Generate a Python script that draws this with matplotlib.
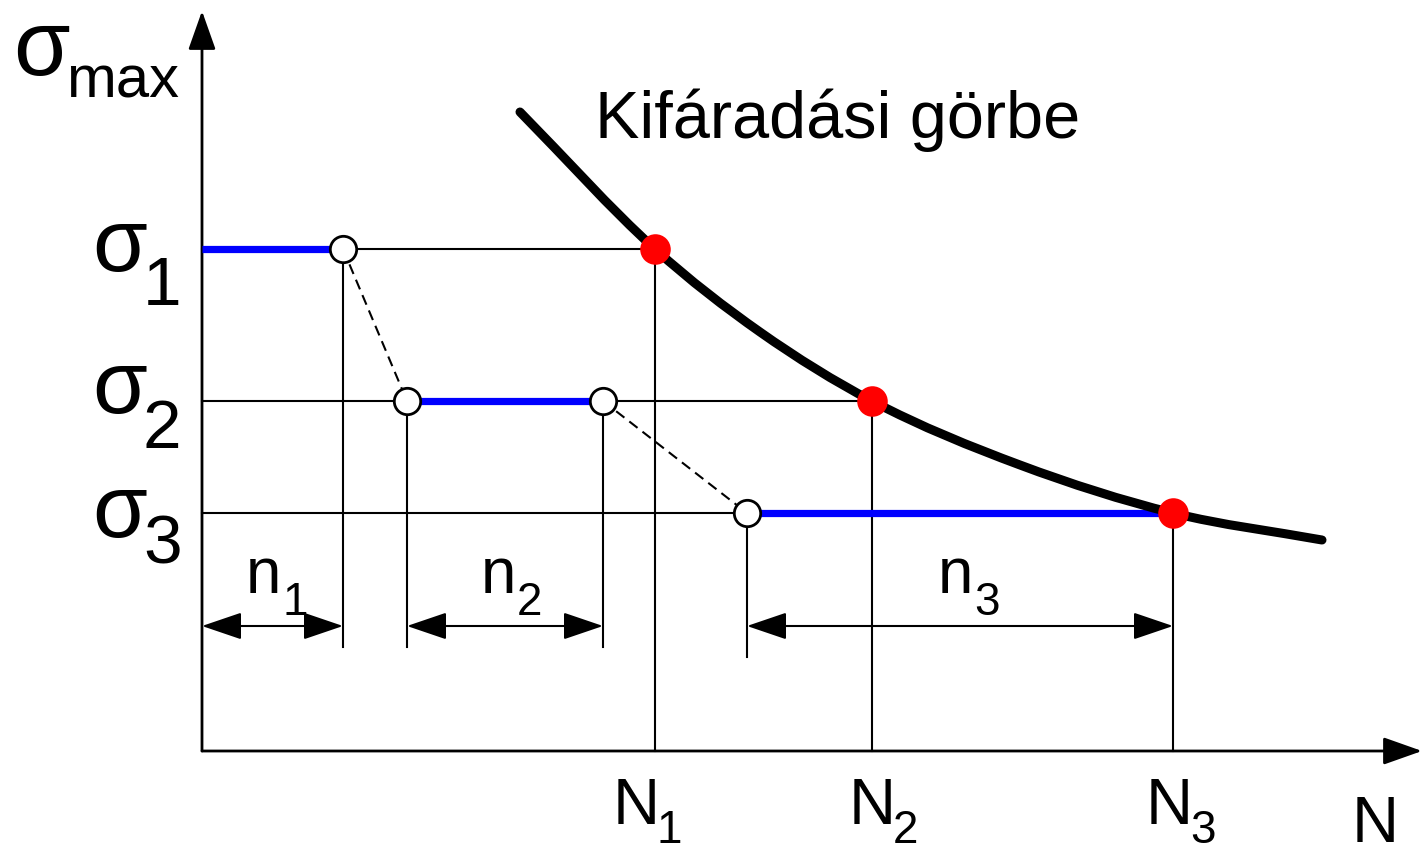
import matplotlib
matplotlib.use("Agg")
import matplotlib.pyplot as plt
from matplotlib.path import Path
from matplotlib.patches import PathPatch, FancyArrowPatch

# drawing units: pixels, origin top-left (y grows downward)
axis_x0 = 202
axis_y0 = 752
axis_top = 12
axis_right = 1422

sigma_y = [250, 402, 514]        # stress levels sigma_1..sigma_3
N_x = [655, 872, 1173]           # fatigue life at each level
n_start = [202, 407, 747]        # start of cycles spent at each level
n_end = [343, 603, 1173]         # end of cycles spent at each level
guide_bottom = [648, 648, 658]   # lower end of the short guide lines
dim_y = 627                      # height of the n_i dimension arrows

# fatigue curve (Wöhler) sample points
curve_x = [520, 655, 760, 872, 1020, 1173, 1322]
curve_y = [113, 250, 333, 402, 466, 514, 541]

curve_title = "Kifáradási görbe"
sub_labels = ["1", "2", "3"]

font = ["Liberation Sans", "DejaVu Sans"]
thin = 1.5


def smooth_path(xs, ys):
    # cubic Hermite through the sample points (tangent = mean of neighbour slopes)
    n = len(xs)
    sl = [(ys[i + 1] - ys[i]) / (xs[i + 1] - xs[i]) for i in range(n - 1)]
    m = [sl[0]] + [(sl[i - 1] + sl[i]) / 2 for i in range(1, n - 1)] + [sl[-1]]
    verts = [(xs[0], ys[0])]
    codes = [Path.MOVETO]
    for i in range(n - 1):
        dx = (xs[i + 1] - xs[i]) / 3
        verts += [(xs[i] + dx, ys[i] + m[i] * dx),
                  (xs[i + 1] - dx, ys[i + 1] - m[i + 1] * dx),
                  (xs[i + 1], ys[i + 1])]
        codes += [Path.CURVE4] * 3
    return Path(verts, codes)


fig = plt.figure(figsize=(14.27, 8.53), dpi=100)
ax = fig.add_axes([0, 0, 1, 1])
ax.set_xlim(0, 1427)
ax.set_ylim(853, 0)
ax.axis("off")

# axes with arrow heads
ax.add_patch(FancyArrowPatch((axis_x0, axis_y0), (axis_x0, axis_top),
                             arrowstyle="-|>,head_length=24,head_width=8.5",
                             mutation_scale=1, lw=2, color="black",
                             shrinkA=0, shrinkB=0, zorder=3))
ax.add_patch(FancyArrowPatch((axis_x0, axis_y0), (axis_right, axis_y0),
                             arrowstyle="-|>,head_length=24,head_width=8.5",
                             mutation_scale=1, lw=2, color="black",
                             shrinkA=0, shrinkB=0, zorder=3))

# thin horizontal lines from the axis to the curve, and drop lines to N_i
for s, N in zip(sigma_y, N_x):
    ax.plot([axis_x0, N], [s, s], color="black", lw=thin, zorder=2)
    ax.plot([N, N], [s, axis_y0], color="black", lw=thin, zorder=2)

# guide lines below the load-step points
ax.plot([n_end[0], n_end[0]], [sigma_y[0], guide_bottom[0]], color="black", lw=thin, zorder=2)
ax.plot([n_start[1], n_start[1]], [sigma_y[1], guide_bottom[1]], color="black", lw=thin, zorder=2)
ax.plot([n_end[1], n_end[1]], [sigma_y[1], guide_bottom[1]], color="black", lw=thin, zorder=2)
ax.plot([n_start[2], n_start[2]], [sigma_y[2], guide_bottom[2]], color="black", lw=thin, zorder=2)

# dashed transitions between levels
for i in range(2):
    ax.plot([n_end[i], n_start[i + 1]], [sigma_y[i], sigma_y[i + 1]],
            color="black", lw=thin, dashes=(5, 3), zorder=2)

# blue segments: cycles spent at each stress level
for s, a, b in zip(sigma_y, n_start, n_end):
    ax.plot([a, b], [s, s], color="#0000ff", lw=5.2, solid_capstyle="butt", zorder=4)

# fatigue curve
ax.add_patch(PathPatch(smooth_path(curve_x, curve_y), fill=False, lw=6.5,
                       edgecolor="black", capstyle="round", zorder=5))

# open circles at level changes
ax.plot([n_end[0], n_start[1], n_end[1], n_start[2]],
        [sigma_y[0], sigma_y[1], sigma_y[1], sigma_y[2]],
        "o", ms=19, mfc="white", mec="black", mew=2, zorder=6)

# red dots on the curve
ax.plot(N_x, sigma_y, "o", ms=22, color="#ff0000", mec="none", zorder=7)

# dimension arrows n_1..n_3
for a, b in zip(n_start, n_end):
    ax.add_patch(FancyArrowPatch((a, dim_y), (b, dim_y),
                                 arrowstyle="<|-|>,head_length=25,head_width=8.5",
                                 mutation_scale=1, lw=thin, color="black",
                                 shrinkA=0, shrinkB=0, zorder=3))

# labels
txt = dict(family=font, color="black", va="baseline", ha="left")
ax.text(13, 75, "σ", fontsize=66, **txt)
ax.text(66, 97, "max", fontsize=43, **txt)

sig_base = [271, 413, 537]
sub_base = [305, 448, 563]
for s, sb, lab in zip(sig_base, sub_base, sub_labels):
    ax.text(92, s, "σ", fontsize=64, **txt)
    ax.text(143, sb, lab, fontsize=50, **txt)

n_lab_x = [246, 481, 938]
for x, lab in zip(n_lab_x, sub_labels):
    ax.text(x, 593, "n", fontsize=46, **txt)
    ax.text(x + 36, 615, lab, fontsize=33, **txt)

N_lab_x = [613, 849, 1146]
for x, lab in zip(N_lab_x, sub_labels):
    ax.text(x, 824, "N", fontsize=47, **txt)
    ax.text(x + 44, 843, lab, fontsize=33, **txt)

ax.text(1352, 842, "N", fontsize=47, **txt)
ax.text(595, 138, curve_title, fontsize=48, **txt)

fig.savefig("out.png", dpi=100, facecolor="white")
